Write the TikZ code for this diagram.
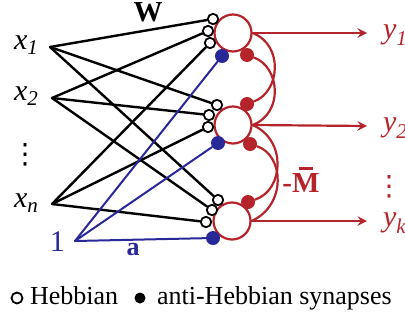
\documentclass[tikz,border=0pt]{standalone}
\usepackage{fontspec}
\usepackage{amsmath}
\setmainfont{Liberation Serif}
\newfontfamily\symfont{DejaVu Sans}
\definecolor{synred}{RGB}{180,36,42}
\definecolor{synblue}{RGB}{40,40,152}
\newcommand{\barM}{\makebox[0pt][l]{\hspace{0.22em}\rule[0.78em]{0.5em}{0.09em}}M}
\tikzset{
  lbl/.style={font=\fontsize{15}{18}\selectfont},
  leg/.style={font=\fontsize{13}{15}\selectfont},
  dotlbl/.style={font=\fontsize{14}{16}\symfont,inner sep=0pt},
  neuron/.style={circle,draw=synred,fill=white,line width=1.1pt,minimum size=18.5pt,inner sep=0pt},
  hebb/.style={circle,draw=black,fill=white,line width=0.9pt,minimum size=5.2pt,inner sep=0pt},
  anti/.style={circle,fill=synred,minimum size=7pt,inner sep=0pt},
  bias/.style={circle,fill=synblue,minimum size=7pt,inner sep=0pt},
  wire/.style={line width=1.2pt,black},
  biaswire/.style={line width=1pt,synblue},
  axon/.style={line width=1.1pt,synred}
}
\begin{document}
\begin{tikzpicture}[x=0.5pt,y=-0.5pt,>=stealth,line join=round,line cap=round]
\useasboundingbox (0,0) rectangle (405,321);
\coordinate (X1) at (50,47);
\coordinate (X2) at (52,98);
\coordinate (Xn) at (52,204);
\coordinate (B) at (75,241);
\node[neuron] (N1) at (233,33) {};
\node[neuron] (N2) at (233,125) {};
\node[neuron] (N3) at (232,221) {};
\node[hebb] (h11) at (213,19) {};
\node[hebb] (h21) at (208,31) {};
\node[hebb] (hn1) at (210,43) {};
\node[hebb] (h12) at (217,105) {};
\node[hebb] (h22) at (209,115) {};
\node[hebb] (hn2) at (208,127) {};
\node[hebb] (h13) at (218,200) {};
\node[hebb] (h23) at (212,210) {};
\node[hebb] (hn3) at (206,222) {};
\node[bias] (a1) at (222,56) {};
\node[bias] (a2) at (218,143) {};
\node[bias] (a3) at (213,238) {};
\node[anti] (d21) at (247,55) {};
\node[anti] (d12) at (247,104) {};
\node[anti] (d32) at (250,144) {};
\node[anti] (d23) at (248,202) {};
\draw[wire] (X1) -- (h11);
\draw[wire] (X1) -- (h12);
\draw[wire] (X1) -- (h13);
\draw[wire] (X2) -- (h21);
\draw[wire] (X2) -- (h22);
\draw[wire] (X2) -- (h23);
\draw[wire] (Xn) -- (hn1);
\draw[wire] (Xn) -- (hn2);
\draw[wire] (Xn) -- (hn3);
\draw[biaswire] (B) -- (a1);
\draw[biaswire] (B) -- (a2);
\draw[biaswire] (B) -- (a3);
\coordinate (o1) at (367,33);
\coordinate (o2) at (367,126);
\coordinate (o3) at (367,221);
\draw[axon,->] (N1.east) -- (o1);
\draw[axon,->] (N2.east) -- (o2);
\draw[axon,->] (N3.east) -- (o3);
\draw[axon] (N1.east) .. controls (284,45) and (280,92) .. (d12);
\draw[axon] (N2.east) .. controls (284,113) and (280,67) .. (d21);
\draw[axon] (N2.east) .. controls (287,140) and (284,190) .. (d23);
\draw[axon] (N3.east) .. controls (287,205) and (284,155) .. (d32);
\node[lbl,anchor=east] (lx1) at (46,45) {$\textit{x}_{\textit{1}}$};
\node[lbl,anchor=east] (lx2) at (46,96) {$\textit{x}_{\textit{2}}$};
\node[dotlbl] (ldots) at (25,155) {⋮};
\node[lbl,anchor=east] (lxn) at (46,203) {$\textit{x}_{\textit{n}}$};
\node[lbl,synblue,anchor=east] (l1) at (72,242) {1};
\node[lbl,font=\fontsize{14.5}{16}\selectfont\bfseries] (wlab) at (148,12) {W};
\node[lbl,synblue,font=\fontsize{13}{16}\selectfont\bfseries] (alab) at (133,250) {a};
\node[lbl,synred,anchor=west] (y1) at (376,35) {$\textit{y}_{\textit{1}}$};
\node[lbl,synred,anchor=west] (y2) at (376,128) {$\textit{y}_{\textit{2}}$};
\node[dotlbl,synred] (rdots) at (389,187) {⋮};
\node[lbl,synred,anchor=west] (yk) at (376,223) {$\textit{y}_{\textit{k}}$};
\node[lbl,synred,font=\fontsize{14.5}{16}\selectfont\bfseries] (mlab) at (301,180) {-\barM};
\node[hebb,minimum size=5.5pt] (kh) at (17,298) {};
\node[leg,anchor=base west] (lh) at (23,304) {Hebbian};
\node[anti,fill=black,minimum size=5.5pt] (ka) at (140,298) {};
\node[leg,anchor=base west] (la) at (150,304) {anti-Hebbian synapses};
\end{tikzpicture}
\end{document}
